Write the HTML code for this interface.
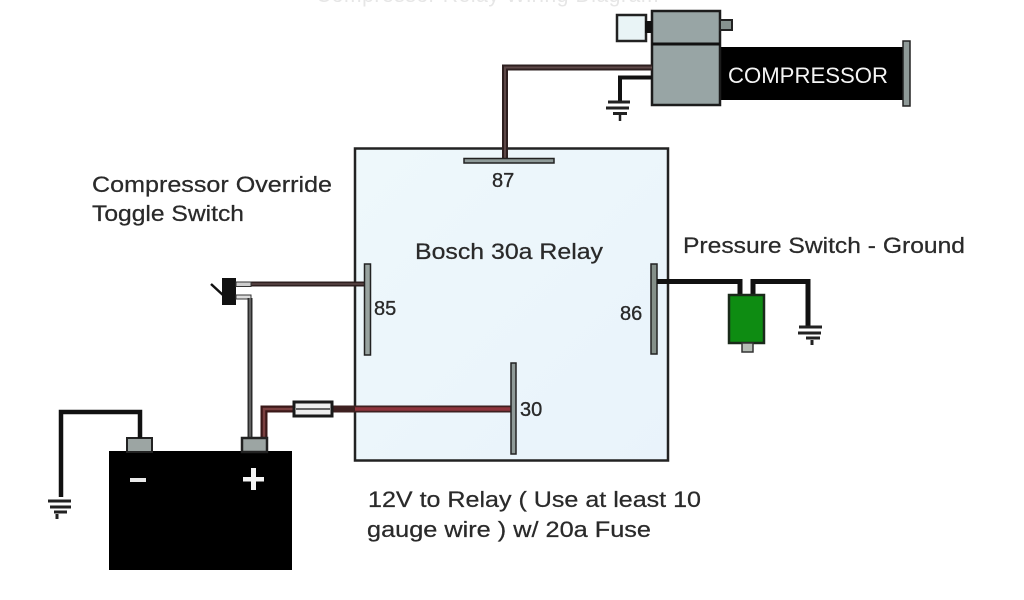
<!DOCTYPE html>
<html><head><meta charset="utf-8">
<style>
html,body{margin:0;padding:0;background:#fff;width:1024px;height:600px;overflow:hidden}
svg{display:block}
text{font-family:"Liberation Sans",sans-serif;fill:#2a2a2a}
.l{font-size:22px;stroke:#2a2a2a;stroke-width:.25px}
.n{font-size:20px;stroke:#2a2a2a;stroke-width:.35px}
</style></head><body>
<svg width="1024" height="600" viewBox="0 0 1024 600" xmlns="http://www.w3.org/2000/svg">
<defs>
<linearGradient id="rel" x1="0" y1="0" x2="1" y2="1"><stop offset="0" stop-color="#eef8fb"/><stop offset="1" stop-color="#e9f3fb"/></linearGradient>
</defs>
<!-- cut off top text -->
<text x="316" y="2" font-size="21" letter-spacing="0.6" style="fill:#e6e6e6">Compressor Relay Wiring Diagram</text>

<!-- relay -->
<rect x="355" y="148.500" width="313" height="312" fill="url(#rel)" stroke="#222" stroke-width="2.500"/>

<!-- compressor -->
<rect x="717" y="47" width="190" height="53" fill="#000"/>
<rect x="903" y="41" width="7" height="65" fill="#8f9a98" stroke="#222" stroke-width="1.500"/>
<rect x="652" y="11" width="68" height="94" fill="#98a5a5" stroke="#1c1c1c" stroke-width="2.500"/>
<line x1="652" y1="44" x2="720" y2="44" stroke="#111" stroke-width="3"/>
<rect x="617" y="15" width="29" height="26" fill="#e9f4f6" stroke="#222" stroke-width="2.500"/>
<rect x="645" y="21" width="7" height="12" fill="#111"/>
<rect x="720" y="20" width="12" height="10" fill="#86918e" stroke="#222" stroke-width="2"/>
<text x="728" y="83" font-size="22.500" style="fill:#f4f4f4" textLength="160" lengthAdjust="spacingAndGlyphs">COMPRESSOR</text>

<!-- 87 wire -->
<path d="M505 158V67.500H652" fill="none" stroke="#2e2020" stroke-width="6"/>
<path d="M505 158V67.500H652" fill="none" stroke="#5d4848" stroke-width="2"/>
<path d="M652 77.500H620V101" fill="none" stroke="#111" stroke-width="4"/>
<g stroke="#222" fill="none">
<path d="M608 102H630" stroke-width="3"/><path d="M606 108H629" stroke-width="3"/><path d="M613 113.500H627" stroke-width="3"/><path d="M620 115V121" stroke-width="2.500"/>
</g>
<rect x="464" y="158.500" width="90" height="4.500" fill="#8e9a98" stroke="#222" stroke-width="1.500"/>
<text x="492" y="187" class="n">87</text>

<!-- pin 85 -->
<path d="M250 284H366" stroke="#2e2020" stroke-width="5" fill="none"/>
<path d="M250 284H366" stroke="#5d4848" stroke-width="1.500" fill="none"/>
<rect x="364.500" y="264" width="6" height="91" fill="#98a3a0" stroke="#222" stroke-width="1.500"/>
<text x="374" y="315" class="n">85</text>

<!-- pin 86 -->
<rect x="651" y="264" width="6" height="90" fill="#848f89" stroke="#222" stroke-width="1.500"/>
<text x="620" y="320" class="n">86</text>
<path d="M657 281.500H740V296" fill="none" stroke="#111" stroke-width="5"/>
<path d="M753 296V281.500H808V328" fill="none" stroke="#111" stroke-width="5"/>
<rect x="729" y="295" width="35" height="48" fill="#0e8c12" stroke="#1a2a1a" stroke-width="2.500"/>
<rect x="742" y="343" width="11" height="9" fill="#b5bdb5" stroke="#333" stroke-width="1.500"/>
<g stroke="#222" fill="none" stroke-width="3">
<path d="M799 327H822"/><path d="M798 333H821"/><path d="M806 338H820"/><path d="M812 340V345"/>
</g>

<!-- pin 30 -->
<path d="M264 447V409H293" fill="none" stroke="#3a1818" stroke-width="7"/>
<path d="M264 447V409H293" fill="none" stroke="#7a4040" stroke-width="2.500"/>
<path d="M333 409H511" fill="none" stroke="#3e2020" stroke-width="7"/>
<path d="M355 409H511" fill="none" stroke="#8e343c" stroke-width="3.500"/>
<rect x="294" y="402" width="38" height="14" fill="#eee" stroke="#1a1a1a" stroke-width="3"/>
<line x1="296" y1="409" x2="330" y2="409" stroke="#666" stroke-width="2"/>
<rect x="511" y="363" width="5" height="91" fill="#8f9a98" stroke="#222" stroke-width="1.500"/>
<text x="520" y="416" class="n">30</text>

<!-- toggle switch -->
<rect x="222" y="278" width="14" height="27" fill="#111"/>
<path d="M211 284L224 296" stroke="#111" stroke-width="2.500"/>
<rect x="236" y="282" width="15" height="4.500" fill="#ccc" stroke="#333" stroke-width="1"/>
<rect x="236" y="295" width="15" height="4" fill="#ddd" stroke="#333" stroke-width="1"/>
<path d="M250 298V440" fill="none" stroke="#2c2c2c" stroke-width="5"/>
<path d="M250 298V440" fill="none" stroke="#999" stroke-width="1"/>

<!-- battery -->
<rect x="109" y="451" width="183" height="119" fill="#000"/>
<rect x="127" y="438" width="25" height="14" fill="#9ca5a3" stroke="#222" stroke-width="2"/>
<rect x="242" y="438" width="25" height="14" fill="#9ca5a3" stroke="#222" stroke-width="2.500"/>
<rect x="130" y="478" width="16" height="4" fill="#e8e8e8"/>
<rect x="243" y="477" width="21" height="4.500" fill="#f4f4f4"/>
<rect x="251" y="468" width="5" height="22" fill="#f4f4f4"/>
<path d="M140 438V412H61V497" fill="none" stroke="#111" stroke-width="4.500"/>
<g stroke="#222" fill="none" stroke-width="3">
<path d="M48 501H71"/><path d="M50 507H71"/><path d="M54 512H67"/><path d="M57 514V519"/>
</g>

<!-- labels -->
<text x="92" y="192" class="l" textLength="240" lengthAdjust="spacingAndGlyphs">Compressor Override</text>
<text x="92" y="221" class="l" textLength="152" lengthAdjust="spacingAndGlyphs">Toggle Switch</text>
<text x="415" y="259" class="l" textLength="188" lengthAdjust="spacingAndGlyphs">Bosch 30a Relay</text>
<text x="683" y="253" class="l" textLength="282" lengthAdjust="spacingAndGlyphs">Pressure Switch - Ground</text>
<text x="368" y="507" class="l" textLength="333" lengthAdjust="spacingAndGlyphs">12V to Relay ( Use at least 10</text>
<text x="367" y="537" class="l" textLength="284" lengthAdjust="spacingAndGlyphs">gauge wire ) w/ 20a Fuse</text>
</svg>
</body></html>
